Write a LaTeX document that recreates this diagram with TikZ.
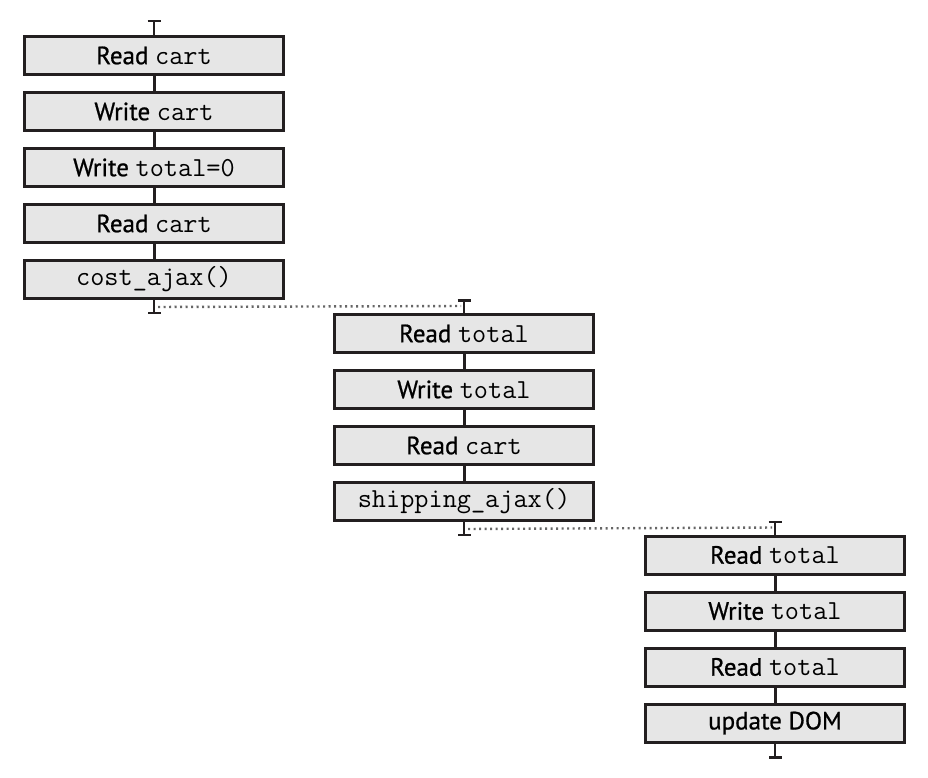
\documentclass[tikz,border=0pt]{standalone}
\usepackage{fontspec}
\setmainfont{PT Sans}[UprightFeatures={FakeBold=0.8}]
\usetikzlibrary{arrows.meta,positioning}
\newcommand{\gap}{15pt}
\newcommand{\code}[1]{{\ttfamily\fontsize{27.5}{28}\selectfont #1}}
\newcommand{\acc}[2]{#1 \code{#2}}
\definecolor{boxgray}{HTML}{E6E6E6}
\definecolor{edge}{HTML}{231F20}
\definecolor{dots}{HTML}{666666}

\begin{document}
\begin{tikzpicture}[
      x=1pt, y=1pt,
      op/.style={draw=edge, fill=boxgray, line width=3pt, minimum width=259pt,
                 minimum height=38pt, inner sep=0pt, font=\fontsize{25}{28}\selectfont},
      link/.style={edge, line width=3pt},
      tick/.style={edge, line width=2.5pt, -{Bar[width=13pt]}},
      wait/.style={dots, line width=2.4pt, dash pattern=on 2.2pt off 3.3pt, shorten <=4pt, shorten >=3pt}
    ]
    \useasboundingbox (0,0) rectangle (928,-778);
    % first column
    \node[op] (c1) at (154,-55.5) {\acc{Read}{cart}};
    \node[op, below=\gap of c1] (c2) {\acc{Write}{cart}};
    \node[op, below=\gap of c2] (c3) {\acc{Write}{total=0}};
    \node[op, below=\gap of c3] (c4) {\acc{Read}{cart}};
    \node[op, below=\gap of c4] (c5) {\code{cost\_ajax()}};
    % second column
    \node[op] (t1) at (464,-333.5) {\acc{Read}{total}};
    \node[op, below=\gap of t1] (t2) {\acc{Write}{total}};
    \node[op, below=\gap of t2] (t3) {\acc{Read}{cart}};
    \node[op, below=\gap of t3] (t4) {\code{shipping\_ajax()}};
    % third column
    \node[op] (u1) at (775,-555) {\acc{Read}{total}};
    \node[op, below=\gap of u1] (u2) {\acc{Write}{total}};
    \node[op, below=\gap of u2] (u3) {\acc{Read}{total}};
    \node[op, below=\gap of u3] (u4) {update DOM};
    % ends of the columns
    \coordinate[above=15pt of c1] (s1);
    \coordinate[below=14pt of c5] (e1);
    \coordinate[below=7pt of c5] (d1);
    \coordinate[above=14pt of t1] (s2);
    \coordinate[above=7pt of t1] (d2);
    \coordinate[below=14pt of t4] (e2);
    \coordinate[below=7pt of t4] (d3);
    \coordinate[above=14pt of u1] (s3);
    \coordinate[above=7pt of u1] (d4);
    \coordinate[below=15pt of u4] (e3);
    % links
    \draw[tick] (c1) -- (s1);
    \draw[link] (c1) -- (c2);
    \draw[link] (c2) -- (c3);
    \draw[link] (c3) -- (c4);
    \draw[link] (c4) -- (c5);
    \draw[tick] (c5) -- (e1);
    \draw[tick] (t1) -- (s2);
    \draw[link] (t1) -- (t2);
    \draw[link] (t2) -- (t3);
    \draw[link] (t3) -- (t4);
    \draw[tick] (t4) -- (e2);
    \draw[tick] (u1) -- (s3);
    \draw[link] (u1) -- (u2);
    \draw[link] (u2) -- (u3);
    \draw[link] (u3) -- (u4);
    \draw[tick] (u4) -- (e3);
    % waiting for the callbacks
    \draw[wait] (d1) -- (d2);
    \draw[wait] (d3) -- (d4);
\end{tikzpicture}
\end{document}
